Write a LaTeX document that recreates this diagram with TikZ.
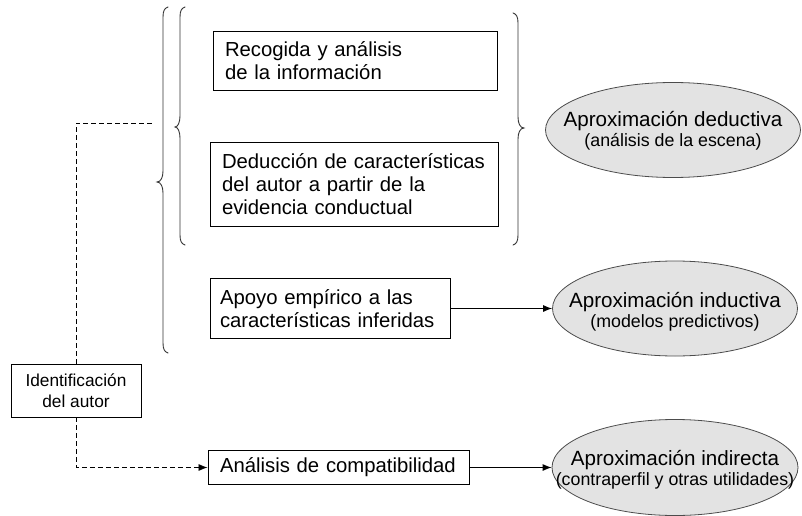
\documentclass[tikz,border=0pt]{standalone}
\usepackage{fontspec}
\setmainfont{Liberation Sans}
\usetikzlibrary{arrows.meta,shapes.geometric}
\newcommand\mainfs{\fontsize{20.3}{23}\selectfont}
\newcommand\smallsz{\fontsize{17.3}{21}\selectfont}
\newcommand\subfs{\fontsize{17.8}{21}\selectfont}
\begin{document}
\begin{tikzpicture}[x=1pt,y=1pt,
  box/.style={draw, line width=0.9pt, inner xsep=12pt, inner ysep=0pt, align=left, font=\mainfs},
  ell/.style={ellipse, draw=black!70, fill=black!11, line width=0.8pt, inner sep=0pt},
  elltext/.style={align=center, inner sep=0pt},
  conn/.style={line width=0.9pt, -{Latex[length=9pt,width=7pt]}},
  dashline/.style={line width=0.8pt, dash pattern=on 5pt off 3pt},
  bracepath/.style={line width=0.9pt, draw=black!80, line cap=round}]
\useasboundingbox (0,0) rectangle (802,515);
% boxes
\node[box, text width=260pt, minimum height=59pt] (b1) at (355,454.5) {Recogida y análisis\\de la información};
\node[box, text width=264pt, minimum height=84pt] (b2) at (354,331) {Deducción de características\\del autor a partir de la\\evidencia conductual};
\node[box, inner xsep=10pt, text width=220pt, minimum height=60pt] (b3) at (330,206.5) {Apoyo empírico a las\\características inferidas};
\node[box, text width=237pt, minimum height=34pt] (b4) at (338.5,47.5) {Análisis de compatibilidad};
\node[draw, line width=0.9pt, minimum width=130pt, minimum height=53pt, align=center, font=\smallsz, inner sep=0pt] (id) at (76,124.5) {Identificación\\del autor};
% ellipses
\node[ell, minimum width=255pt, minimum height=95pt] (e1) at (673,385) {};
\node[elltext] (t1) at (673,384) {{\fontsize{20.6}{22}\selectfont Aproximación deductiva}\\[1.5pt]{\subfs (análisis de la escena)}};
\node[ell, minimum width=245pt, minimum height=95pt] (e2) at (675,206.5) {};
\node[elltext] (t2) at (675,203) {{\fontsize{20.6}{22}\selectfont Aproximación inductiva}\\[1.5pt]{\subfs (modelos predictivos)}};
\node[ell, minimum width=246pt, minimum height=96pt] (e3) at (675,47.5) {};
\node[elltext] (t3) at (675,45) {{\fontsize{20.6}{22}\selectfont Aproximación indirecta}\\[1.5pt]{\subfs (contraperfil y otras utilidades)}};
% braces
\draw[bracepath] (168,508) .. controls (164.5,507) and (163,504) .. (163,498) -- (163,344) .. controls (163,338) and (161,333) .. (157,333) .. controls (161,333) and (163,328) .. (163,322) -- (163,172) .. controls (163,166) and (164.5,163) .. (168,162);
\draw[bracepath] (185,508) .. controls (181.5,507) and (180,504) .. (180,498) -- (180,399) .. controls (180,393) and (178,388) .. (175,388) .. controls (178,388) and (180,383) .. (180,377) -- (180,280) .. controls (180,274) and (181.5,271) .. (185,270);
\draw[bracepath] (513,502) .. controls (516.5,501) and (518,498) .. (518,492) -- (518,398) .. controls (518,392) and (520,387) .. (524,387) .. controls (520,387) and (518,382) .. (518,376) -- (518,280) .. controls (518,274) and (516.5,271) .. (513,270);
% connectors
\coordinate (dend) at (153,392);
\draw[dashline] (id.north) |- (dend);
\draw[dashline, -{Latex[length=9pt,width=7pt]}] (id.south) |- (b4.west);
\draw[conn] (b3.east) -- (e2.west);
\draw[conn] (b4.east) -- (e3.west);
\end{tikzpicture}
\end{document}
